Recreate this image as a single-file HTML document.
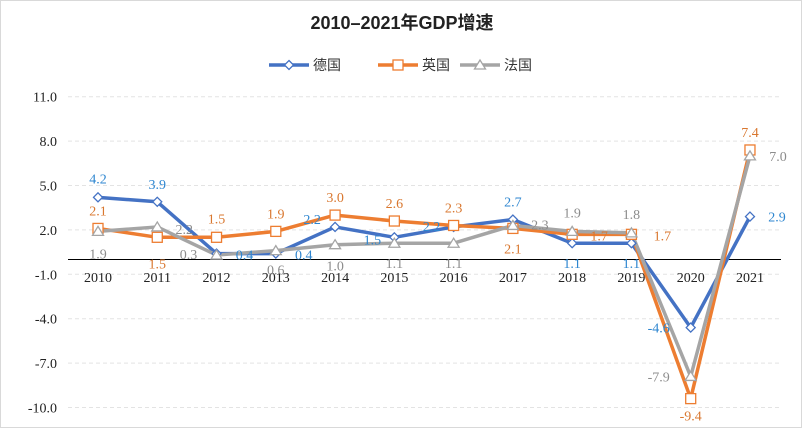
<!DOCTYPE html>
<html><head><meta charset="utf-8"><style>
html,body{margin:0;padding:0;background:#fff}
#wrap{position:relative;width:800px;height:426px;border:1px solid #d9d9d9;overflow:hidden}
svg text{font-family:"Liberation Serif","Noto Serif CJK SC",serif}
</style></head><body>
<div id="wrap">
<svg id="chart" width="800" height="426" xmlns="http://www.w3.org/2000/svg">
<text x="401" y="28" text-anchor="middle" font-size="18" font-weight="bold" fill="#222" style="font-family:'Liberation Sans','Noto Sans CJK SC',sans-serif">2010–2021年GDP增速</text>
<g id="legend"></g>
<g id="grid"></g>
<g id="axes"></g>
<g id="series"></g>
<g id="labels"></g>
</svg>
</div>
<script>
const years = ["2010","2011","2012","2013","2014","2015","2016","2017","2018","2019","2020","2021"];
const germany = [4.2,3.9,0.4,0.4,2.2,1.5,2.2,2.7,1.1,1.1,-4.6,2.9];
const uk = [2.1,1.5,1.5,1.9,3.0,2.6,2.3,2.1,1.7,1.7,-9.4,7.4];
const france = [1.9,2.2,0.3,0.6,1.0,1.1,1.1,2.3,1.9,1.8,-7.9,7.0];
const yTicks = [11,8,5,2,-1,-4,-7,-10];
const seriesNames = ["德国","英国","法国"];

const NS="http://www.w3.org/2000/svg";
function mk(tag,attrs,parent){const e=document.createElementNS(NS,tag);for(const k in attrs)e.setAttribute(k,attrs[k]);parent.appendChild(e);return e;}
const X0=97, DX=59.27, Y0=258.5, UNIT=14.8;
function xs(i){return X0+i*DX;}
function ys(v){return Y0-v*UNIT;}

const grid=document.getElementById('grid'), axes=document.getElementById('axes');
yTicks.forEach(t=>{
  const g=mk('line',{x1:67,x2:780,y1:ys(t),y2:ys(t),stroke:'#e3e3e3','stroke-dasharray':'4,3','stroke-width':1},grid);
  
  
  const tl=mk('text',{x:56,y:ys(t)+5,'text-anchor':'end','font-size':14,fill:'#222'},axes);
  tl.textContent=t.toFixed(1);
  
  
});
const zl=mk('line',{x1:67,x2:780,y1:Y0,y2:Y0,stroke:'#000','stroke-width':1},axes);


years.forEach((y,i)=>{
  const t=mk('text',{x:xs(i),y:281,'text-anchor':'middle','font-size':14,fill:'#222'},axes);
  t.textContent=y;
  
  
});

const colors=['#4472C4','#ED7D31','#A5A5A5'];
const labelColors=['#2E86D0','#D9772F','#8C8C8C'];
const allData=[germany,uk,france];
const offsets=[
 [[0,-19],[0,-18],[28,1],[28,1],[-23,-8],[-22,2],[-22,-1],[0,-18],[0,20],[0,20],[-32,0],[27,0]],
 [[0,-18],[0,26],[0,-19],[0,-18],[0,-18],[0,-18],[0,-18],[0,20],[27,1],[31,1],[0,17],[0,-18]],
 [[0,22],[27,2],[-28,-1],[0,19],[0,21],[0,20],[0,20],[27,-1],[0,-19],[0,-19],[-32,0],[28,0]]
];
function marker(s,x,y,p){
  let e;
  if(s===0) e=mk('polygon',{points:`${x},${y-4.5} ${x+4.5},${y} ${x},${y+4.5} ${x-4.5},${y}`,fill:'#fff',stroke:colors[0],'stroke-width':1.3},p);
  else if(s===1) e=mk('rect',{x:x-5,y:y-5,width:10,height:10,fill:'#fff',stroke:colors[1],'stroke-width':1.3},p);
  else e=mk('polygon',{points:`${x},${y-5} ${x+5.5},${y+4} ${x-5.5},${y+4}`,fill:'#fff',stroke:colors[2],'stroke-width':1.3},p);
  return e;
}
const sg=document.getElementById('series'), lg=document.getElementById('labels');
allData.forEach((d,s)=>{
  const pts=d.map((v,i)=>xs(i)+','+ys(v)).join(' ');
  const pl=mk('polyline',{points:pts,fill:'none',stroke:colors[s],'stroke-width':3.5,'stroke-linejoin':'round'},sg);
  
  
});
allData.forEach((d,s)=>{
  d.forEach((v,i)=>{
    const m=marker(s,xs(i),ys(v),sg);
    
    
    const o=offsets[s][i];
    const t=mk('text',{x:xs(i)+o[0],y:ys(v)+o[1]+5,'text-anchor':'middle','font-size':14,fill:labelColors[s]},lg);
    t.textContent=v.toFixed(1);
    
    
  });
});
const leg=document.getElementById('legend');
const legX=[268,377,459];
seriesNames.forEach((n,s)=>{
  const g=mk('g',{},leg);
  
  
  mk('line',{x1:legX[s],x2:legX[s]+40,y1:64,y2:64,stroke:colors[s],'stroke-width':3.5},g);
  marker(s,legX[s]+20,64,g);
  const t=mk('text',{x:legX[s]+44,y:69,'font-size':14,fill:'#333'},g);
  t.style.fontFamily="'Liberation Sans','Noto Sans CJK SC',sans-serif";
  t.textContent=n;
});
</script>
</body></html>
